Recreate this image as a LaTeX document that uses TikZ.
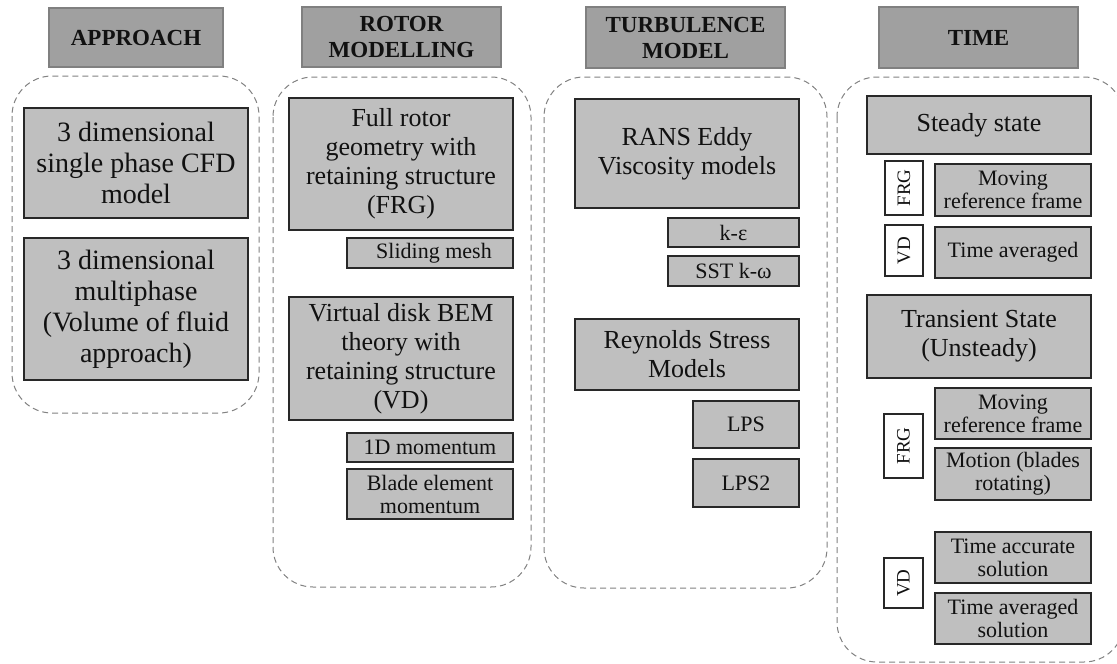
\documentclass[tikz,border=0pt]{standalone}
\usepackage{fontspec}
\setmainfont{Liberation Serif}
\definecolor{hdrfill}{RGB}{160,160,160}
\definecolor{hdrline}{RGB}{128,128,128}
\definecolor{boxfill}{RGB}{191,191,191}
\definecolor{boxline}{RGB}{40,40,40}
\definecolor{dashline}{RGB}{130,130,130}
\definecolor{txt}{RGB}{17,17,17}
\newcommand\bx[7]{\node[#1, minimum width={#5-#3}, minimum height={#6-#4}] (#2) at ({(#3+#5)/2},{(#4+#6)/2}) {#7};}
\newcommand\ctr[5]{\draw[container] (#2,#3) rectangle (#4,#5); \coordinate (#1) at ({(#2+#4)/2},{(#3+#5)/2});}
\tikzset{
  base/.style={inner sep=0pt, outer sep=0pt, align=center, text=txt},
  hdr/.style={base, draw=hdrline, fill=hdrfill, line width=1.2pt, font=\fontsize{23}{26}\selectfont\bfseries},
  bigbox/.style={base, draw=boxline, fill=boxfill, line width=1.3pt, font=\fontsize{28}{31}\selectfont},
  midbox/.style={base, draw=boxline, fill=boxfill, line width=1.3pt, font=\fontsize{26}{29}\selectfont},
  smallbox/.style={base, draw=boxline, fill=boxfill, line width=1.3pt, font=\fontsize{22}{23}\selectfont},
  tagbox/.style={base, draw=boxline, fill=white, line width=1.1pt},
  tagtext/.style={base, rotate=90, font=\fontsize{19}{20}\selectfont},
  container/.style={draw=dashline, line width=1pt, dash pattern=on 6pt off 4pt, rounded corners=40pt}
}
\begin{document}
\begin{tikzpicture}[x=1pt,y=-1pt]
\clip (0,0) rectangle (1117,664);
\fill[white] (0,0) rectangle (1117,664);

% headers
\bx{hdr}{hA}{49}{8}{223}{67}{APPROACH}
\bx{hdr}{hR}{302}{7}{501}{67}{ROTOR\\MODELLING}
\bx{hdr}{hT}{586}{7}{785}{68}{TURBULENCE\\MODEL}
\bx{hdr}{hTi}{879}{7}{1078}{68}{TIME}

% containers
\ctr{cA}{12}{76}{259}{413}
\ctr{cR}{273}{77}{531}{587}
\ctr{cT}{544}{77}{827}{588}
\ctr{cTi}{837}{77}{1124}{662}

% approach
\bx{bigbox}{a1}{24}{108}{248}{218}{3 dimensional\\single phase CFD\\model}
\bx{bigbox}{a2}{24}{238}{248}{380}{3 dimensional\\multiphase\\(Volume of fluid\\approach)}

% rotor modelling
\bx{midbox}{r1}{289}{98}{513}{230}{Full rotor\\geometry with\\retaining structure\\(FRG)}
\bx{smallbox}{r1a}{347}{238}{513}{268}{\hspace{8pt}Sliding mesh}
\bx{midbox}{r2}{289}{297}{513}{420}{Virtual disk BEM\\theory with\\retaining structure\\(VD)}
\bx{smallbox}{r2a}{347}{433}{513}{462}{1D momentum}
\bx{smallbox}{r2b}{347}{469}{513}{519}{Blade element\\momentum}

% turbulence model
\bx{midbox}{t1}{575}{99}{799}{208}{RANS Eddy\\Viscosity models}
\bx{smallbox}{t1a}{668}{218}{799}{247}{k-ε}
\bx{smallbox}{t1b}{668}{256}{799}{286}{SST k-ω}
\bx{midbox}{t2}{575}{319}{799}{390}{Reynolds Stress\\Models}
\bx{smallbox}{t2a}{693}{401}{799}{448}{LPS}
\bx{smallbox}{t2b}{693}{459}{799}{507}{LPS2}

% time
\bx{midbox}{s1}{867}{96}{1091}{154}{Steady state}
\bx{tagbox}{s1f}{885}{161}{923}{215}{}
\node[tagtext] at (s1f) {FRG};
\bx{smallbox}{s1a}{935}{164}{1091}{216}{\fontsize{22}{21}\selectfont Moving\\reference frame}
\bx{tagbox}{s1v}{885}{225}{923}{276}{}
\node[tagtext] at (s1v) {VD};
\bx{smallbox}{s1b}{935}{227}{1091}{278}{Time averaged}
\bx{midbox}{s2}{867}{295}{1091}{378}{Transient State\\(Unsteady)}
\bx{smallbox}{s2a}{935}{388}{1091}{439}{\fontsize{22}{21}\selectfont Moving\\reference frame}
\bx{smallbox}{s2b}{935}{448}{1091}{500}{Motion (blades\\rotating)}
\bx{tagbox}{s2f}{884}{414}{923}{478}{}
\node[tagtext] at (s2f) {FRG};
\bx{smallbox}{s2c}{935}{532}{1091}{583}{Time accurate\\solution}
\bx{smallbox}{s2d}{935}{593}{1091}{644}{Time averaged\\solution}
\bx{tagbox}{s2v}{884}{558}{923}{608}{}
\node[tagtext] at (s2v) {VD};
\end{tikzpicture}
\end{document}
